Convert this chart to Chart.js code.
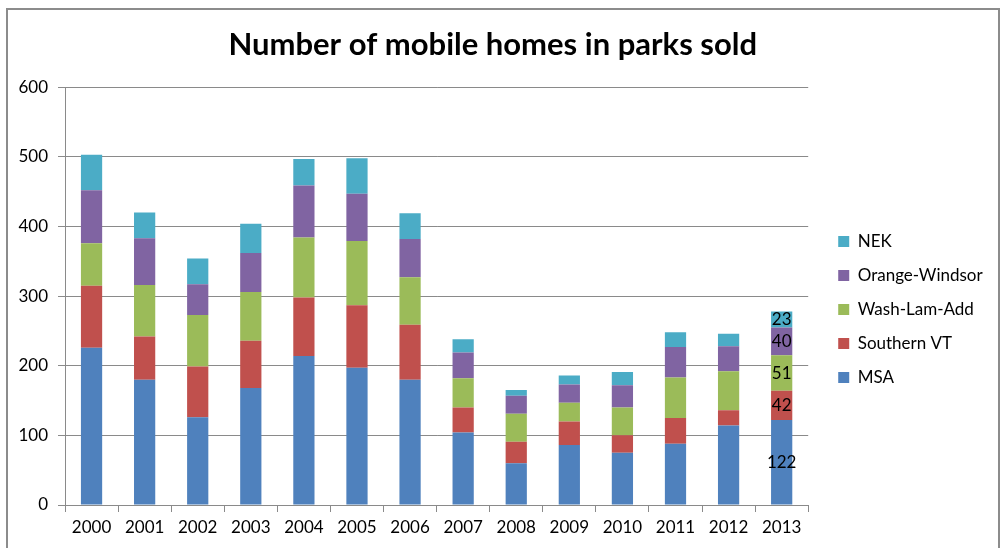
<!DOCTYPE html>
<html>
<head>
<meta charset="utf-8">
<script src="https://cdn.jsdelivr.net/npm/chart.js"></script>
<style>
body{margin:0;background:#fff;overflow:hidden;}
#wrap{position:relative;width:1002px;height:548px;}
#frame{position:absolute;left:6px;top:8px;width:990px;height:600px;border:2px solid #8c8c8c;}
#homesChart{position:absolute;left:0;top:0;}
</style>
</head>
<body>
<div id="wrap">
<div id="frame"></div>
<canvas id="homesChart" width="1002" height="548"></canvas>
</div>
<script>
// DATA

const years = ["2000","2001","2002","2003","2004","2005","2006","2007","2008","2009","2010","2011","2012","2013"];
const msa = [226,180,126,168,214,197,180,104,60,86,75,88,114,122];
const southernVT = [89,62,73,68,84,90,79,36,31,34,25,37,22,42];
const washLamAdd = [61,74,74,70,86,92,68,42,40,27,40,58,56,51];
const orangeWindsor = [76,67,44,56,75,68,55,37,26,26,32,44,36,40];
const nek = [51,37,37,42,38,51,37,19,8,13,19,21,18,23];
const yMax = 600;
const yStep = 100;

Chart.defaults.font.family = "Lato";
Chart.defaults.color = "#000";

const gridGray = "#8a8a8a";
const legendFontSize = 17;

// legend width depends on the longest label
let m = document.createElement("canvas").getContext("2d");
m.font = legendFontSize + "px Lato";
let longest = Math.max(...["NEK","Orange-Windsor","Wash-Lam-Add","Southern VT","MSA"].map(t => m.measureText(t).width));
let legendWidth = 17 + 11 + legendFontSize/2 + longest;
let rightPad = 1002 - 824 - legendWidth;

// numbers on the last year only

const lastYearLabels = {
id:"lastYearLabels",
afterDatasetsDraw(chart){
const ctx = chart.ctx;
const i = years.length - 1;
ctx.save();
ctx.font = "17px Lato";
ctx.fillStyle = "#000";
ctx.textAlign = "center";
ctx.textBaseline = "middle";
chart.data.datasets.forEach((ds,d) => {
const bar = chart.getDatasetMeta(d).data[i];
const c = bar.getCenterPoint();
ctx.fillText(ds.data[i], c.x, c.y);
});
ctx.restore();
}
};

new Chart(
document.getElementById("homesChart"),
{
type:"bar",
data:{
labels:years,
datasets:[
{label:"MSA", data:msa, backgroundColor:"#4F81BD"},
{label:"Southern VT", data:southernVT, backgroundColor:"#C0504D"},
{label:"Wash-Lam-Add", data:washLamAdd, backgroundColor:"#9BBB59"},
{label:"Orange-Windsor", data:orangeWindsor, backgroundColor:"#8064A2"},
{label:"NEK", data:nek, backgroundColor:"#4BACC6"}
]
},
options:{
responsive:false,
animation:false,
barPercentage:0.4,
categoryPercentage:1.0,
layout:{padding:{left:0, right:rightPad, top:0, bottom:0}},
plugins:{
title:{
display:true,
text:"Number of mobile homes in parks sold",
font:{size:31, weight:"bold"},
color:"#000",
padding:{top:26, bottom:24}
},
legend:{
position:"right",
fullSize:false,
reverse:true,
title:{display:true, text:" ", font:{size:10}, padding:{top:15, bottom:0}},
labels:{
boxWidth:11,
boxHeight:11,
padding:17,
font:{size:legendFontSize},
color:"#000"
}
},
tooltip:{enabled:false}
},
scales:{
x:{
stacked:true,
grid:{offset:true, drawOnChartArea:false, tickLength:7, color:gridGray},
border:{color:gridGray},
ticks:{padding:5, font:{size:17}},
afterFit(s){ s.height = 43; }
},
y:{
stacked:true,
min:0,
max:yMax,
ticks:{stepSize:yStep, padding:10, font:{size:17}},
grid:{color:gridGray, tickLength:7},
border:{color:gridGray},
afterFit(s){ s.width = 65; }
},
gap:{
position:"right",
grid:{display:false},
ticks:{display:false},
border:{display:false},
afterFit(s){ s.width = 13; }
}
}
},
plugins:[lastYearLabels]
}
);
</script>
</body>
</html>
